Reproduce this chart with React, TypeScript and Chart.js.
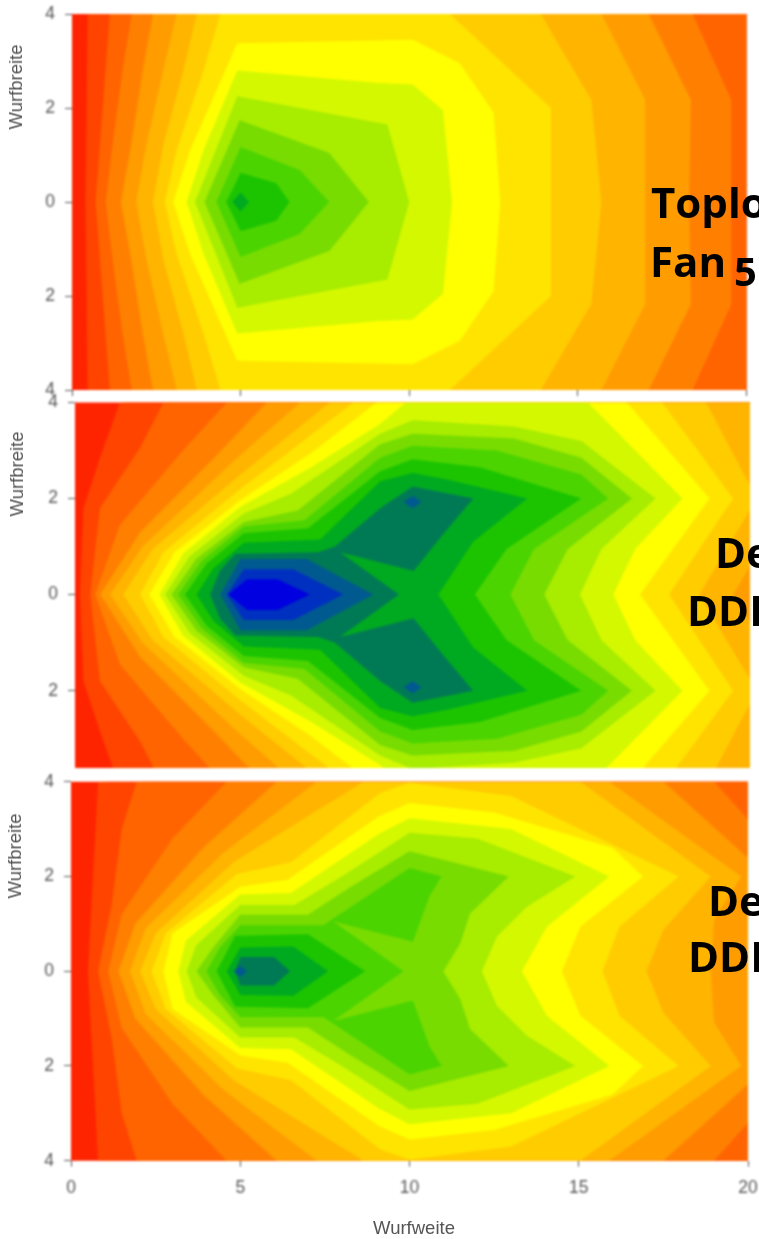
import React, { useEffect, useRef } from "react";
import { Chart, registerables } from "chart.js";

Chart.register(...registerables);

type Pt = [number, number];

const xTicks = [0, 5, 10, 15, 20];
const yTicks = [-4, -2, 0, 2, 4];

// Colour of each contour step, from the lowest (background) to the highest
const stepColors = [
  "#ff2400", "#ff4400", "#ff6400", "#ff8000", "#ff9c00", "#ffb400", "#ffcc00", "#ffe400",
  "#ffff00", "#d4f800", "#a8ec00", "#78dc00", "#4cd400", "#1cc400", "#00aa20", "#007a55",
  "#005a90", "#0030c0", "#0000e0",
];

// Upper half (Wurfbreite >= 0) of every contour. The plot is mirrored about 0.
const fan5Contours: Pt[][] = [
  [[0.4, 0], [0.48, 5], [25, 5], [25, 0]],
  [[0.7, 0], [1.12, 4], [1.2, 5], [24, 5], [24, 0]],
  [[1.0, 0], [1.2, 1.2], [1.5, 2.8], [1.77, 4], [18.4, 4], [19.55, 2.17], [19.55, 0]],
  [[1.45, 0], [1.75, 1.2], [2.1, 2.8], [2.4, 4], [17.1, 4], [18.35, 2.17], [18.3, 0]],
  [[1.9, 0], [2.2, 1.2], [2.7, 2.8], [3.1, 4], [15.7, 4], [17, 2.17], [17, 0]],
  [[2.4, 0], [2.7, 1.2], [3.3, 2.8], [3.7, 4], [13.9, 4], [15.4, 2.17], [15.7, 0]],
  [[2.75, 0], [3.1, 1.1], [3.9, 2.8], [4.4, 4], [11.2, 4], [12.45, 3.17], [14.2, 2], [14.2, 0]],
  [[3.0, 0], [3.5, 1.1], [4.9, 3.38], [10.1, 3.45], [11.5, 2.95], [12.5, 1.9], [12.7, 0]],
  [[3.4, 0], [3.9, 1.1], [4.9, 2.8], [9.1, 2.53], [10.1, 2.5], [11, 1.95], [11.27, 0]],
  [[3.65, 0], [4.9, 2.25], [9.35, 1.65], [10, 0]],
  [[3.93, 0], [4.97, 1.74], [7.63, 1.04], [8.8, 0]],
  [[4.28, 0], [5, 1.17], [6.75, 0.68], [7.63, 0]],
  [[4.57, 0], [5, 0.62], [6.06, 0.4], [6.45, 0]],
  [[4.75, 0], [5, 0.2], [5.25, 0]],
];

const ddiAContours: Pt[][] = [
  [[0.15, 0], [0.25, 1.8], [0.74, 2.85], [1.33, 4], [25, 5], [25, 0]],
  [[0.45, 0], [0.74, 1.8], [1.93, 3.06], [2.62, 4], [24, 5], [24, 0]],
  [[0.6, 0], [1.33, 1.45], [3.2, 3], [4.5, 4], [23, 5], [23, 0]],
  [[0.75, 0], [1.93, 1.3], [4.2, 2.9], [5.68, 4], [22, 5], [22, 2], [20.6, 0]],
  [[1.04, 0], [2, 1], [4.7, 2.78], [6.67, 4], [20, 4], [21.2, 2], [19.5, 0]],
  [[1.43, 0], [2.3, 0.95], [4.9, 2.5], [7.55, 4], [18.7, 4], [20.2, 2], [18.5, 0]],
  [[1.93, 0], [2.62, 0.88], [4.9, 2.2], [8.25, 4], [17.4, 4], [19.5, 2], [17.6, 0]],
  [[2.2, 0], [2.95, 0.88], [4.9, 1.97], [7, 2.95], [8.94, 4], [16.35, 4], [18.8, 2], [16.74, 0]],
  [[2.5, 0], [3.2, 0.85], [4.9, 1.83], [7, 2.65], [9.04, 3.55], [9.8, 4], [15.2, 4], [18, 2], [16.6, 0.95], [15.95, 0]],
  [[2.67, 0], [3.4, 0.8], [5, 1.69], [6.4, 2.1], [9.04, 3.35], [10, 3.63], [13, 3.5], [15, 3.2], [17.2, 2], [15.6, 0.95], [14.96, 0]],
  [[2.86, 0], [3.6, 0.75], [5, 1.51], [6.6, 1.75], [9.04, 3.13], [10, 3.35], [13, 3.25], [15, 2.85], [16.5, 2], [14.6, 0.95], [13.9, 0]],
  [[3.06, 0], [3.75, 0.7], [5, 1.42], [6.8, 1.55], [9.04, 2.85], [10, 3.1], [12.5, 3], [15, 2.5], [15.8, 2], [13.6, 0.95], [12.9, 0]],
  [[3.26, 0], [3.9, 0.65], [5, 1.28], [6.9, 1.38], [9.04, 2.57], [10, 2.82], [12, 2.65], [15, 2], [12.79, 0.95], [11.85, 0]],
  [[3.6, 0], [4.1, 0.55], [5, 1.08], [7.26, 1.15], [9.04, 2.36], [10, 2.53], [11, 2.4], [13.4, 2], [11.8, 1.1], [10.77, 0]],
  [[4, 0], [4.3, 0.5], [4.75, 0.85], [7.2, 0.88], [7.7, 1.0], [9.04, 1.8], [10, 2.25], [11.8, 2], [10.9, 1.25], [10.03, 0.49], [7.85, 0.88], [9.6, 0]],
  [[4.3, 0], [4.9, 0.74], [6.87, 0.74], [8.84, 0]],
  [[4.5, 0], [5, 0.53], [6.47, 0.53], [7.95, 0]],
  [[4.54, 0], [5.1, 0.32], [6, 0.32], [6.96, 0]],
];
const ddiAPeaks: Pt[] = [[10, 1.93], [10, -1.93]];

const ddiBContours: Pt[][] = [
  [[0.5, 0], [0.8, 4], [25, 5], [25, 0]],
  [[0.8, 0], [1.2, 1.4], [1.5, 3], [1.94, 4], [24, 5], [24, 0]],
  [[1.1, 0], [1.5, 1.2], [3, 2.8], [4.6, 4], [19, 4], [21.5, 2], [21.5, 0]],
  [[1.4, 0], [1.9, 1], [3.9, 2.6], [6.08, 4], [17.5, 4], [20.6, 2], [20.3, 0]],
  [[1.74, 0], [2.2, 0.9], [4.5, 2.5], [7.26, 4], [15.9, 4], [19.8, 2], [19, 1.08], [18.9, 0]],
  [[2.04, 0], [2.5, 0.8], [4.8, 2.3], [8.64, 4], [15.05, 4], [18.9, 2], [17.5, 0.87], [17, 0]],
  [[2.38, 0], [2.8, 0.8], [4.9, 2.05], [6.5, 2.3], [9.13, 3.76], [10, 3.98], [13, 3.7], [17.95, 2], [16.2, 0.94], [15.7, 0]],
  [[2.73, 0], [3, 0.8], [5, 1.78], [6.4, 1.93], [9.1, 3.27], [10, 3.55], [12.5, 3.35], [16, 2.6], [16.9, 2], [15.05, 0.94], [14.5, 0]],
  [[3.17, 0], [3.4, 0.65], [5, 1.62], [6.5, 1.65], [9.1, 2.9], [10, 3.23], [13, 3], [15.9, 2], [14.06, 0.94], [13.32, 0]],
  [[3.42, 0], [3.7, 0.55], [5, 1.4], [6.6, 1.4], [8, 2], [10, 2.92], [12, 2.8], [14.9, 2], [13.47, 1.36], [12.58, 0.73], [12.14, 0]],
  [[3.71, 0], [4.2, 0.5], [5, 1.19], [7, 1.19], [8.2, 1.75], [10, 2.53], [12.93, 2], [11.79, 1.22], [11.5, 0.59], [11, 0]],
  [[4, 0], [4.4, 0.5], [5, 0.97], [7.46, 0.97], [7.75, 1.11], [10, 2.18], [10.95, 2], [10.6, 1.6], [10.1, 0.62], [7.75, 1.05], [9.82, 0]],
  [[4.3, 0], [4.85, 0.75], [7, 0.78], [8.69, 0]],
  [[4.6, 0], [5, 0.5], [6.57, 0.52], [7.6, 0]],
  [[4.85, 0], [5, 0.3], [6, 0.3], [6.47, 0]],
  [[4.8, 0], [5, 0.12], [5.2, 0]],
];

const LABEL_FONT = "'Liberation Sans', Arial, sans-serif";

function closeMirrored(top: Pt[]): { x: number; y: number }[] {
  const up = top.map(([x, y]) => ({ x, y }));
  const down = top
    .filter(([, y]) => y !== 0)
    .reverse()
    .map(([x, y]) => ({ x, y: -y }));
  return [...up, ...down];
}

function diamond([cx, cy]: Pt): { x: number; y: number }[] {
  return [
    { x: cx - 0.27, y: cy },
    { x: cx, y: cy + 0.13 },
    { x: cx + 0.27, y: cy },
    { x: cx, y: cy - 0.13 },
  ];
}

// Fills each dataset as a closed polygon, through the chart's own scales.
const contourFill = {
  id: "contourFill",
  beforeDatasetDraw(chart: any, args: any) {
    const ds = chart.data.datasets[args.index];
    const { ctx, chartArea: a, scales } = chart;
    ctx.save();
    ctx.beginPath();
    ctx.rect(a.left, a.top, a.right - a.left, a.bottom - a.top);
    ctx.clip();
    ctx.beginPath();
    ds.data.forEach((p: any, i: number) => {
      const px = scales.x.getPixelForValue(p.x);
      const py = scales.y.getPixelForValue(p.y);
      if (i === 0) ctx.moveTo(px, py);
      else ctx.lineTo(px, py);
    });
    ctx.closePath();
    ctx.fillStyle = ds.backgroundColor;
    ctx.fill();
    ctx.restore();
  },
};

interface PanelProps {
  contours: Pt[][];
  peaks?: Pt[];
  peakStep?: number;
  canvasTop: number;
  canvasHeight: number;
  left: number;
  right: number;
  top: number;
  bottom: number;
  yMin: number;
  xAxis: "none" | "ticks" | "labels";
}

function zeroPadding(s: any) {
  s.paddingLeft = 0;
  s.paddingRight = 0;
  s.paddingTop = 0;
  s.paddingBottom = 0;
}

function Panel(p: PanelProps) {
  const ref = useRef<HTMLCanvasElement>(null);
  useEffect(() => {
    const rings = [
      { data: closeMirrored([[-2, 0], [-2, 6], [26, 6], [26, 0]]), step: 0 },
      ...p.contours.map((c, i) => ({ data: closeMirrored(c), step: i + 1 })),
      ...(p.peaks || []).map((c) => ({ data: diamond(c), step: p.peakStep || 16 })),
    ];
    const chart = new Chart(ref.current as HTMLCanvasElement, {
      type: "scatter",
      data: {
        datasets: rings.map((r, i) => ({
          label: `Stufe ${r.step}`,
          data: r.data,
          backgroundColor: stepColors[r.step],
          borderColor: stepColors[r.step],
          pointRadius: 0,
          showLine: false,
          order: -i,
        })),
      },
      options: {
        animation: false,
        responsive: false,
        events: [],
        layout: {
          autoPadding: false,
          padding: {
            left: 0,
            top: p.top - p.canvasTop,
            right: 759 - p.right,
            bottom: p.xAxis === "none" ? p.canvasTop + p.canvasHeight - p.bottom : 0,
          },
        },
        plugins: { legend: { display: false }, tooltip: { enabled: false } },
        scales: {
          x: {
            type: "linear",
            display: p.xAxis !== "none",
            min: 0,
            max: 20,
            afterFit: (s: any) => {
              s.height = p.canvasTop + p.canvasHeight - p.bottom;
              zeroPadding(s);
            },
            afterBuildTicks: (s: any) => {
              s.ticks = xTicks.map((value) => ({ value }));
            },
            border: { display: false },
            grid: { drawOnChartArea: false, drawTicks: true, tickLength: 6, color: "#555", lineWidth: 1 },
            ticks: {
              display: p.xAxis === "labels",
              padding: 11,
              color: "#555",
              maxRotation: 0,
              font: { family: LABEL_FONT, size: 17.5 },
            },
          },
          y: {
            type: "linear",
            min: p.yMin,
            max: 4,
            afterFit: (s: any) => {
              s.width = p.left;
              zeroPadding(s);
            },
            afterBuildTicks: (s: any) => {
              s.ticks = yTicks.filter((value) => value >= p.yMin).map((value) => ({ value }));
            },
            border: { display: false },
            grid: { drawOnChartArea: false, drawTicks: true, tickLength: 7, color: "#555", lineWidth: 1 },
            ticks: {
              padding: 10,
              color: "#555",
              font: { family: LABEL_FONT, size: 17.5 },
              callback: (v: any) => String(Math.abs(Number(v))),
            },
          },
        },
      },
      plugins: [contourFill],
    } as any);
    return () => chart.destroy();
  }, []);
  return (
    <canvas
      ref={ref}
      width={759}
      height={p.canvasHeight}
      style={{
        position: "absolute",
        left: 0,
        top: p.canvasTop,
        width: 759,
        height: p.canvasHeight,
        display: "block",
        filter: "blur(0.8px)",
      }}
    />
  );
}

function AxisTitle({ text, cx, cy, rotate }: { text: string; cx: number; cy: number; rotate?: boolean }) {
  return (
    <span
      style={{
        position: "absolute",
        left: cx,
        top: cy,
        transform: `translate(-50%, -50%)${rotate ? " rotate(-90deg)" : ""}`,
        whiteSpace: "nowrap",
        font: `18.5px ${LABEL_FONT}`,
        color: "#555",
        filter: "blur(0.6px)",
      }}
    >
      {text}
    </span>
  );
}

function Note({ left, baseline, children }: { left: number; baseline: number; children: React.ReactNode }) {
  return (
    <span
      style={{
        position: "absolute",
        left,
        top: baseline - 37,
        whiteSpace: "nowrap",
        font: "bold 42px/42px 'Open Sans', sans-serif",
        color: "#000",
      }}
    >
      {children}
    </span>
  );
}

export default function App() {
  useEffect(() => {
    document.body.style.margin = "0";
    document.body.style.background = "#fff";
  }, []);
  return (
    <div style={{ position: "absolute", left: 0, top: 0, width: 759, height: 1239, overflow: "hidden", background: "#fff" }}>
      <Panel contours={fan5Contours} canvasTop={0} canvasHeight={402} left={72} right={746.5} top={14} bottom={390} yMin={-4} xAxis="ticks" />
      <Panel contours={ddiAContours} peaks={ddiAPeaks} peakStep={16} canvasTop={392} canvasHeight={384} left={75} right={750} top={402.5} bottom={772} yMin={-3.61} xAxis="none" />
      <Panel contours={ddiBContours} canvasTop={772} canvasHeight={467} left={71} right={748} top={781.7} bottom={1160.7} yMin={-4} xAxis="labels" />
      <AxisTitle text="Wurfbreite" cx={16} cy={87} rotate />
      <AxisTitle text="Wurfbreite" cx={17} cy={474} rotate />
      <AxisTitle text="Wurfbreite" cx={15} cy={856} rotate />
      <AxisTitle text="Wurfweite" cx={414} cy={1228} />
      <Note left={651} baseline={218}>Toplo</Note>
      <Note left={650} baseline={277}>Fan <span style={{ position: "relative", top: 9, fontSize: 40, marginLeft: -3 }}>5</span></Note>
      <Note left={715} baseline={568}>De</Note>
      <Note left={687} baseline={626}>DDI</Note>
      <Note left={708} baseline={916}>De</Note>
      <Note left={688} baseline={972}>DDI</Note>
    </div>
  );
}
